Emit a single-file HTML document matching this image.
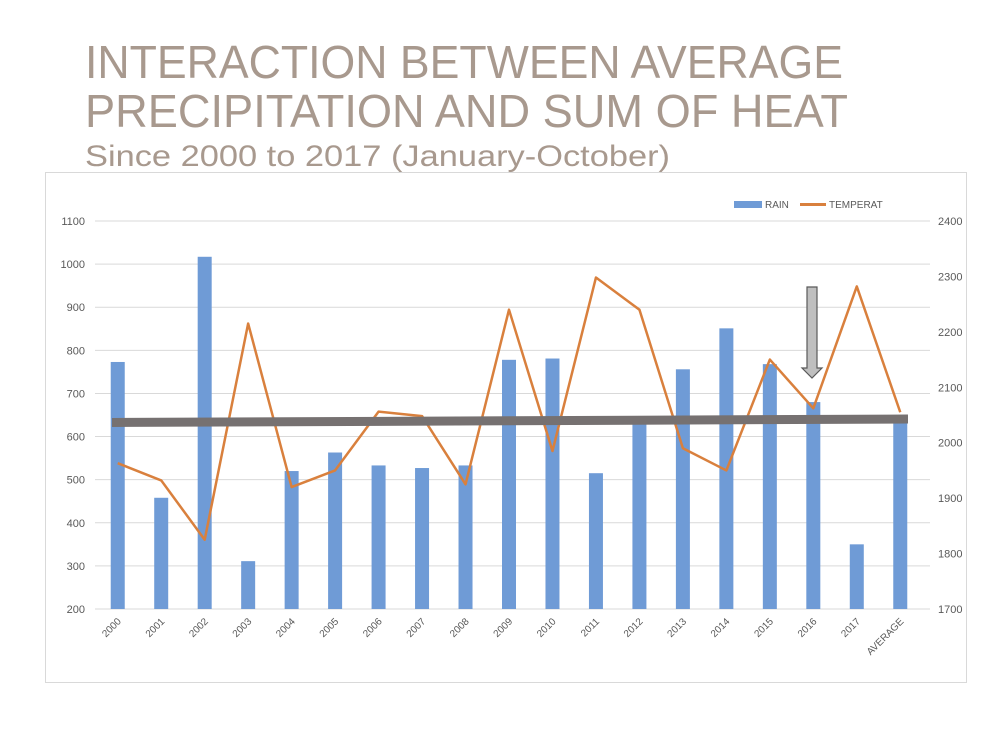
<!DOCTYPE html>
<html><head><meta charset="utf-8"><style>
body{margin:0;background:#fff;}
svg{display:block;font-family:"Liberation Sans",sans-serif;}
</style></head><body>
<svg id="c" width="1000" height="750" viewBox="0 0 1000 750">
<text x="85" y="78" font-size="46" fill="#a8998e" textLength="758" lengthAdjust="spacingAndGlyphs">INTERACTION BETWEEN AVERAGE</text>
<text x="85" y="127" font-size="46" fill="#a8998e" textLength="763" lengthAdjust="spacingAndGlyphs">PRECIPITATION AND SUM OF HEAT</text>
<text x="85" y="166" font-size="30" fill="#a8998e" textLength="585" lengthAdjust="spacingAndGlyphs">Since 2000 to 2017 (January-October)</text>
<rect x="45.5" y="172.5" width="921" height="510" fill="none" stroke="#d9d9d9"/>
<g id="grid"></g><g id="bars"></g><g id="line"></g><g id="labels"></g>
<line x1="112" y1="422.5" x2="908" y2="419" stroke="#767171" stroke-width="9"/>
<polygon points="807,287 817,287 817,368 822,368 812,378 802,368 807,368" fill="#bfbfbf" stroke="#595959" stroke-width="1.2"/>
<rect x="734" y="201" width="28" height="7" fill="#6f9bd6"/>
<text x="765" y="208" font-size="10" fill="#595959">RAIN</text>
<line x1="800" y1="204.5" x2="826" y2="204.5" stroke="#d9803d" stroke-width="3"/>
<text x="829" y="208" font-size="10" fill="#595959">TEMPERAT</text>
</svg>
<script>
const categories=["2000","2001","2002","2003","2004","2005","2006","2007","2008","2009","2010","2011","2012","2013","2014","2015","2016","2017","AVERAGE"];
const rain=[773,458,1017,311,520,563,533,527,533,778,781,515,635,756,851,768,680,350,635];
const temp=[1963,1932,1825,2215,1920,1950,2056,2048,1925,2240,1985,2298,2240,1990,1950,2150,2062,2282,2055];
const leftTicks=[200,300,400,500,600,700,800,900,1000,1100];
const rightTicks=[1700,1800,1900,2000,2100,2200,2300,2400];
const NS="http://www.w3.org/2000/svg";
const x0=96,x1=922,yB=609,yT=221;
const band=(x1-x0)/categories.length;
const xc=i=>x0+band*(i+0.5);
const yL=v=>yB-(v-200)/(1100-200)*(yB-yT);
const yR=v=>yB-(v-1700)/(2400-1700)*(yB-yT);
function mk(t,a,p){const e=document.createElementNS(NS,t);for(const k in a)e.setAttribute(k,a[k]);p.appendChild(e);return e;}
const g=document.getElementById('grid'),b=document.getElementById('bars'),l=document.getElementById('line'),lb=document.getElementById('labels');
leftTicks.forEach(v=>{
 const ln=mk('line',{x1:95,x2:930,y1:yL(v),y2:yL(v),stroke:'#d9d9d9','stroke-width':1},g);
 
 
 const t=mk('text',{x:85,y:yL(v)+4,'font-size':11,fill:'#595959','text-anchor':'end'},lb);t.textContent=v;
 
 
});
rightTicks.forEach(v=>{
 const t=mk('text',{x:938,y:yR(v)+4,'font-size':11,fill:'#595959'},lb);t.textContent=v;
 
 
});
categories.forEach((c,i)=>{
 const r=mk('rect',{x:xc(i)-7,y:yL(rain[i]),width:14,height:yB-yL(rain[i]),fill:'#6f9bd6'},b);
 
 
 const t=mk('text',{x:xc(i)+4,y:622,'font-size':10,fill:'#595959','text-anchor':'end',transform:`rotate(-45 ${xc(i)+4} 622)`},lb);t.textContent=c;
 
 
});
const pl=mk('polyline',{points:temp.map((v,i)=>xc(i)+','+yR(v)).join(' '),fill:'none',stroke:'#d9803d','stroke-width':2.5,'stroke-linejoin':'round'},l);


</script>
</body></html>
